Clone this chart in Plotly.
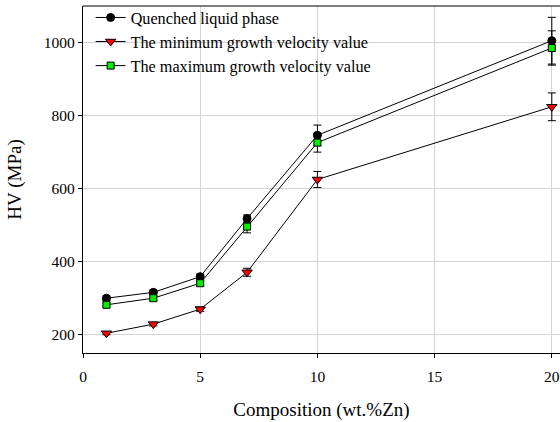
import plotly.graph_objects as go

composition = [1, 3, 5, 7, 10, 20]

quenched_hv = [300, 316, 359, 518, 746, 1005]
quenched_err = [6, 6, 7, 10, 28, 64]

min_growth_hv = [204, 229, 270, 371, 625, 824]
min_growth_err = [4, 5, 6, 11, 22, 38]

max_growth_hv = [282, 300, 341, 496, 726, 985]
max_growth_err = [6, 6, 7, 17, 26, 47]

x_ticks = [0, 5, 10, 15, 20]
y_ticks = [200, 400, 600, 800, 1000]

FONT = "Liberation Serif"

fig = go.Figure()


def add_series(name, y, err, symbol, color, size):
    fig.add_trace(go.Scatter(
        x=composition, y=y, name=name, mode="lines+markers",
        line=dict(color="black", width=1),
        marker=dict(symbol=symbol, size=size, color=color,
                    line=dict(color="black", width=1)),
        error_y=dict(type="data", array=err, visible=True,
                     color="black", thickness=1, width=4),
    ))


add_series("Quenched liquid phase", quenched_hv, quenched_err,
           "circle", "black", 8)
add_series("The minimum growth velocity value", min_growth_hv, min_growth_err,
           "triangle-down", "#ff0000", 9)
add_series("The maximum growth velocity value", max_growth_hv, max_growth_err,
           "square", "#00ee00", 7)

fig.update_layout(
    width=560, height=422,
    margin=dict(l=83, r=0, t=6, b=69),
    paper_bgcolor="white", plot_bgcolor="white",
    font=dict(family=FONT, size=15, color="black"),
    showlegend=True,
    legend=dict(x=0.016, y=1.016, xanchor="left", yanchor="top",
                bgcolor="rgba(0,0,0,0)", font=dict(size=16.2, family=FONT),
                tracegroupgap=0, itemwidth=30),
    xaxis=dict(
        range=[0, 20.35], tickvals=x_ticks, ticktext=[str(v) for v in x_ticks],
        showgrid=True, gridcolor="#d4d4d4", gridwidth=1,
        zeroline=False, showline=True, linecolor="black", linewidth=1.3,
        ticks="outside", ticklen=4, tickcolor="black",
        ticklabelstandoff=5,
        tickfont=dict(size=15.5, family=FONT),
        title=dict(text="Composition (wt.%Zn)", font=dict(size=19, family=FONT),
                   standoff=18),
        automargin=False,
    ),
    yaxis=dict(
        range=[150, 1100], tickvals=y_ticks, ticktext=[str(v) for v in y_ticks],
        showgrid=True, gridcolor="#d4d4d4", gridwidth=1,
        zeroline=False, showline=True, linecolor="black", linewidth=1.3,
        ticks="outside", ticklen=4, tickcolor="black",
        tickfont=dict(size=15.5, family=FONT),
        title=dict(text="HV (MPa)", font=dict(size=19, family=FONT),
                   standoff=17),
        automargin=False,
    ),
    shapes=[dict(type="line", xref="paper", yref="paper",
                 x0=0, x1=1, y0=1, y1=1,
                 line=dict(color="#555555", width=1.3))],
)

fig.write_html("out.html", config={"displayModeBar": False},
               post_script="document.body.style.margin='0';")
